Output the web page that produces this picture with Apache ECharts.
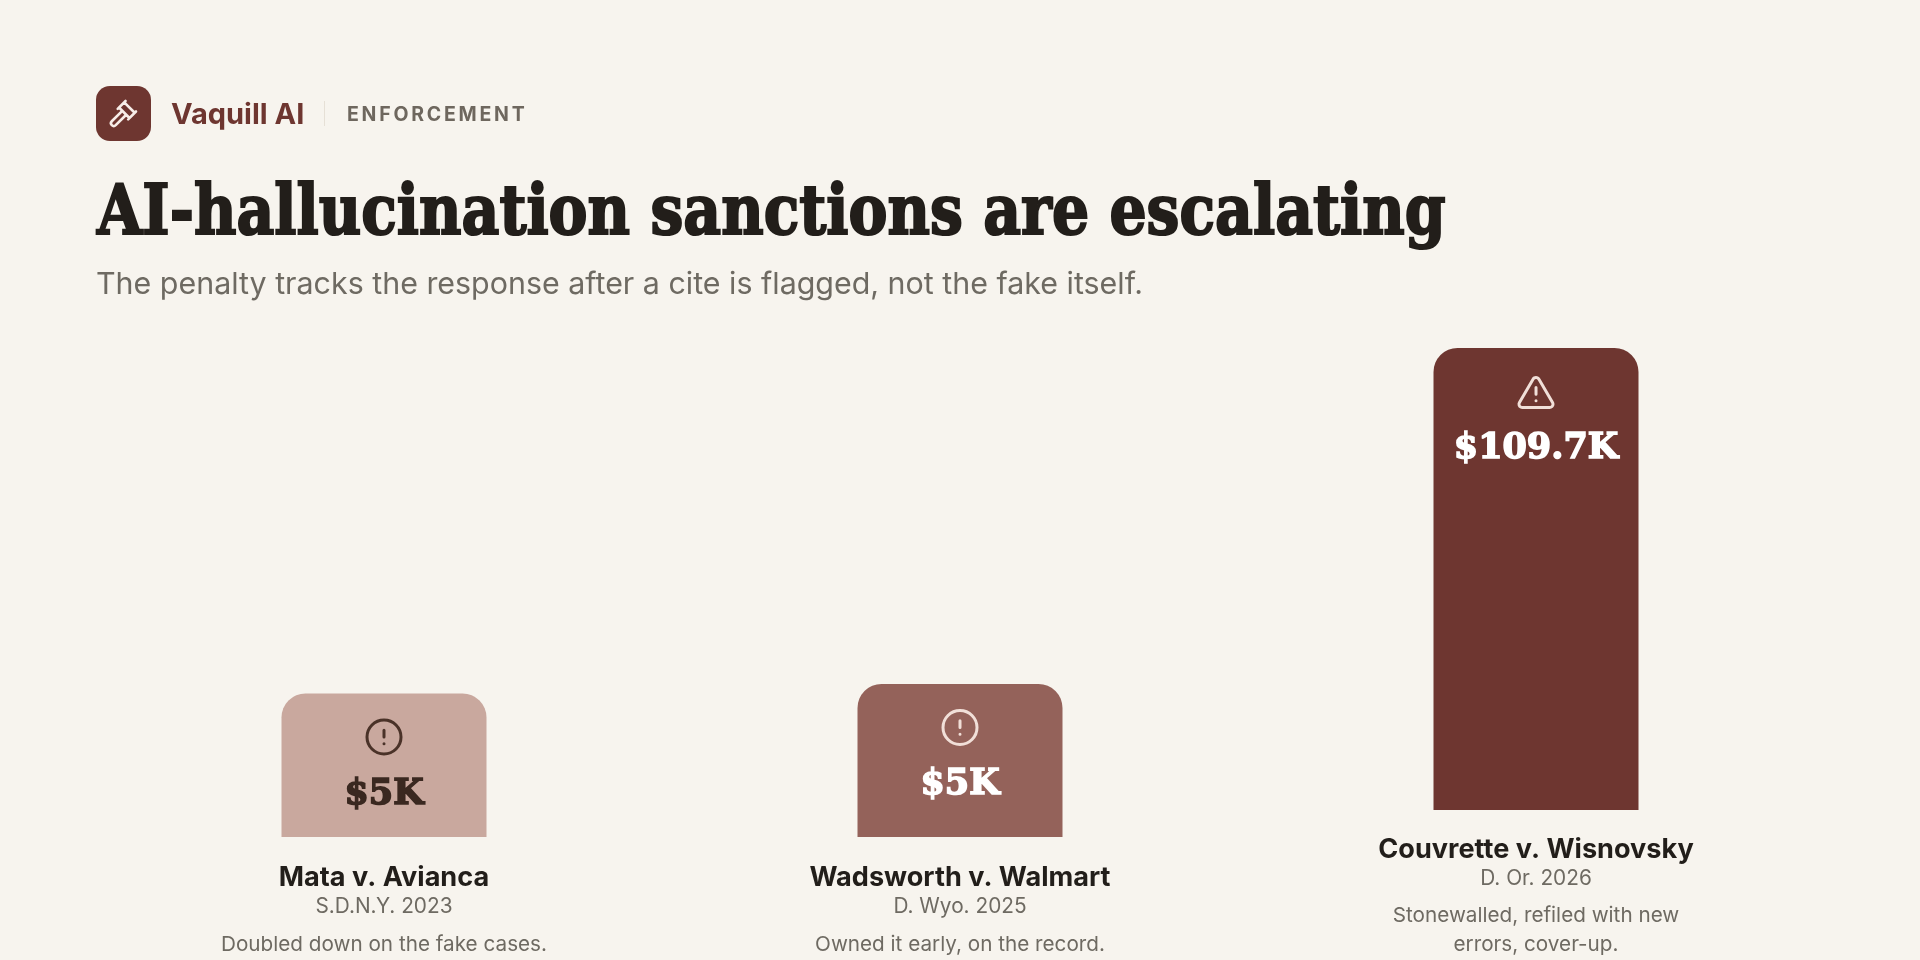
<!DOCTYPE html>
<html><head><meta charset="utf-8">
<style>
html,body{margin:0;padding:0;background:#F7F4EE;width:1920px;height:960px;overflow:hidden}
#chart{position:absolute;left:0;top:0;width:1920px;height:960px}
#eyebrow{position:absolute;left:347px;top:102px;font:700 19.5px Inter,sans-serif;letter-spacing:2.75px;color:#6E675E;line-height:24px;white-space:nowrap}
</style>
<script src="https://cdn.jsdelivr.net/npm/echarts@6/dist/echarts.min.js"></script>
</head><body>
<div id="chart"></div>
<div id="eyebrow">ENFORCEMENT</div>
<script>
const caseNames = ['Mata v. Avianca', 'Wadsworth v. Walmart', 'Couvrette v. Wisnovsky'];
const courts = ['S.D.N.Y. 2023', 'D. Wyo. 2025', 'D. Or. 2026'];
const notes = [['Doubled down on the fake cases.'], ['Owned it early, on the record.'], ['Stonewalled, refiled with new', 'errors, cover-up.']];
const amountLabels = ['$5K', '$5K', '$109.7K'];
// bar height on the picture, relative to the tallest bar = 100, and the lift of each bar's baseline
const barHeights = [31.05, 33.12, 100];
const barLifts = [0, 0, 5.84];
const barColors = ['#C9A89E', '#94625A', '#6E3630'];
const labelColors = ['#3A2820', '#FFFFFF', '#FFFFFF'];
const iconColors = ['#4A3228', '#F1DFD8', '#F1DFD8'];
const iconKinds = ['circle', 'circle', 'triangle'];
const noteNudge = [0, 0, -1.5];

const ICONS = {
  circle: 'M12 2a10 10 0 1 0 0 20a10 10 0 1 0 0-20zM12 8v4M12 16h.01',
  triangle: 'M21.73 18l-8-14a2 2 0 0 0-3.48 0l-8 14A2 2 0 0 0 4 21h16a2 2 0 0 0 1.73-3zM12 9v4M12 17h.01'
};
const GAVEL = 'M14.5 12.5l-8 8a2.119 2.119 0 1 1-3-3l8-8M16 16l6-6M8 8l6-6M9 7l8 8M21 11l-8-8';
const INK = '#221E1A', GRAY = '#6E6A62', BRAND = '#6E3630';

function txt(x, y, text, font, fill, scaleX, border) {
  return {type:'text', x, y, originX:0, scaleX:scaleX||1,
    style:{text, font, fill, align:'left', verticalAlign:'bottom', stroke:border?fill:undefined, lineWidth:border||0}};
}

const chart = echarts.init(document.getElementById('chart'), null, {renderer:'canvas'});
chart.setOption({
  animation:false,
  backgroundColor:'#F7F4EE',
  grid:{left:96, right:96, top:348, height:489, containLabel:false},
  xAxis:{type:'category', data:caseNames, show:false},
  yAxis:{type:'value', min:0, max:105.84, show:false},
  graphic:[
    {type:'rect', z:1, shape:{x:96,y:86,width:55,height:55,r:14}, style:{fill:BRAND}},
    txt(171,130,'Vaquill AI','700 29px Inter',BRAND),
    {type:'rect', shape:{x:324,y:101,width:1,height:25}, style:{fill:'#E6E0D6'}},
    txt(97,251,'AI-hallucination sanctions are escalating','900 70px "DejaVu Serif"',INK,0.835,2.2),
    txt(96,300,'The penalty tracks the response after a cite is flagged, not the fake itself.','400 30.4px Inter',GRAY)
  ],
  series:[
    {type:'bar', stack:'a', silent:true, barWidth:205, data:barLifts, itemStyle:{color:'transparent'}},
    {type:'bar', stack:'a', silent:true, barWidth:205,
     data:barHeights.map((v,i)=>({value:v,
       itemStyle:{color:barColors[i], borderRadius:[24,24,0,0]},
       label:{color:labelColors[i], textBorderColor:labelColors[i]}})),
     label:{show:true, position:'insideTop', distance:83.5,
       fontFamily:'DejaVu Serif', fontWeight:900, fontSize:35, textBorderWidth:1.6,
       formatter:p=>amountLabels[p.dataIndex]}},
    {type:'custom', silent:true, coordinateSystem:'cartesian2d', z:5,
     data:barHeights.map((v,i)=>[i, barLifts[i], v]),
     renderItem(params, api){
       const i = params.dataIndex;
       const base = api.coord([i, api.value(1)]);
       const top = api.coord([i, api.value(1)+api.value(2)]);
       const cx = base[0];
       const kids = [];
       const isC = iconKinds[i]==='circle';
       kids.push({type:'path', z2:10, shape:{pathData:ICONS[iconKinds[i]], x:cx-17, y:top[1]+(isC?26.5:29.5), width:34, height:isC?34:30, layout:'cover'},
         style:{fill:'none',stroke:iconColors[i],lineWidth:3,lineCap:'round',lineJoin:'round'}});
       const t = (y,text,font,fill)=>({type:'text', x:cx, y:base[1]+y, style:{text,font,fill,align:'center',verticalAlign:'bottom'}});
       const n = noteNudge[i];
       kids.push(t(54+n*0.7,caseNames[i],'700 27.1px Inter',INK));
       kids.push(t(80+n*0.7,courts[i],'400 20.8px Inter',GRAY));
       notes[i].forEach((line,k)=>kids.push(t(118+n+k*29,line,'400 20.7px Inter',GRAY)));
       return {type:'group', children:kids};
     }},
    {type:'custom', silent:true, coordinateSystem:'none', z:10, data:[0],
     renderItem(){
       return {type:'path', shape:{pathData:GAVEL,x:111,y:101,width:25,height:25,layout:'cover'},
         style:{fill:'none',stroke:'#F7EDE8',lineWidth:2.6,lineCap:'round',lineJoin:'round'}};
     }}
  ]
});
</script>
</body></html>
